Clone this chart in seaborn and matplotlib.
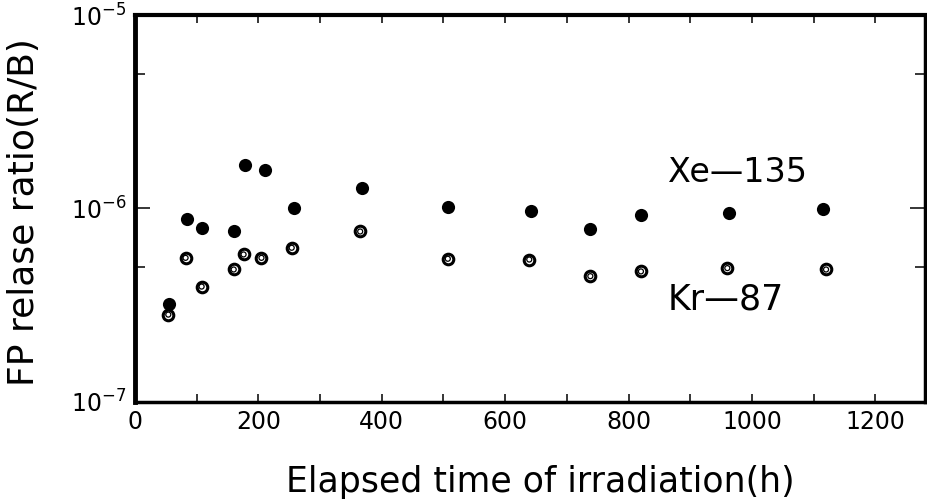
import numpy as np
import pandas as pd
import matplotlib
matplotlib.use("Agg")
import matplotlib.pyplot as plt
import matplotlib.ticker as mticker
import seaborn as sns

# ---- values ----
xe_time = [55, 85, 108, 160, 178, 210, 258, 368, 507, 642, 738, 820, 963, 1115]
xe_ratio = [3.21e-7, 8.84e-7, 7.97e-7, 7.63e-7, 1.69e-6, 1.59e-6, 1.00e-6,
            1.28e-6, 1.015e-6, 9.65e-7, 7.85e-7, 9.28e-7, 9.50e-7, 9.90e-7]

kr_time = [54, 82, 108, 160, 176, 205, 254, 365, 507, 639, 738, 820, 960, 1120]
kr_ratio = [2.82e-7, 5.55e-7, 3.94e-7, 4.83e-7, 5.78e-7, 5.55e-7, 6.26e-7,
            7.60e-7, 5.49e-7, 5.44e-7, 4.46e-7, 4.72e-7, 4.91e-7, 4.83e-7]

x_major = [0, 200, 400, 600, 800, 1000, 1200]

xe = pd.DataFrame({"time": xe_time, "ratio": xe_ratio})
kr = pd.DataFrame({"time": kr_time, "ratio": kr_ratio})

sns.set_style("ticks")
plt.rcParams["font.family"] = ["DejaVu Sans"]
plt.rcParams["text.color"] = "black"
plt.rcParams["axes.labelcolor"] = "black"

fig = plt.figure(figsize=(9.27, 5.01), dpi=100)
ax = fig.add_axes([0.1456, 0.1986, 0.852, 0.7705])

# Xe-135: filled circles
sns.scatterplot(data=xe, x="time", y="ratio", ax=ax, marker="o", s=90,
                color="black", edgecolor="black", linewidth=0, zorder=3)
# Kr-87: double ring circles
sns.scatterplot(data=kr, x="time", y="ratio", ax=ax, marker="o", s=58,
                facecolor="white", edgecolor="black", linewidth=2.2, zorder=4)
sns.scatterplot(data=kr, x="time", y="ratio", ax=ax, marker="o", s=13,
                facecolor="none", edgecolor="black", linewidth=0.9, zorder=5)

ax.set_yscale("log")
ax.set_xlim(0, 1280)
ax.set_ylim(1e-7, 1e-5)

ax.xaxis.set_major_locator(mticker.FixedLocator(x_major))
ax.xaxis.set_minor_locator(mticker.MultipleLocator(100))
ax.yaxis.set_major_locator(mticker.LogLocator(base=10, numticks=10))
ax.yaxis.set_minor_locator(mticker.LogLocator(base=10, subs=[5], numticks=10))
ax.yaxis.set_minor_formatter(mticker.NullFormatter())

ax.tick_params(axis="both", which="both", direction="in",
               top=True, right=True, width=1.1, labelsize=17, colors="black")
ax.tick_params(axis="x", which="both", length=6, pad=6)
ax.tick_params(axis="y", which="major", length=11, pad=6)
ax.tick_params(axis="y", which="minor", length=7)

for side, lw in {"left": 3.5, "top": 3.0, "bottom": 2.5, "right": 2.5}.items():
    ax.spines[side].set_visible(True)
    ax.spines[side].set_linewidth(lw)
    ax.spines[side].set_color("black")

ax.set_xlabel("Elapsed time of irradiation(h)", fontsize=25, va="center")
ax.set_ylabel("FP relase ratio(R/B)", fontsize=26, va="center")
ax.xaxis.set_label_coords(0.513, -0.2085)
ax.yaxis.set_label_coords(-0.14, 0.49)

ax.text(976, 1.54e-6, "Xe\u2014135", fontsize=24, ha="center", va="center")
ax.text(958, 3.38e-7, "Kr\u201487", fontsize=25, ha="center", va="center")

fig.savefig("out.png", dpi=100, facecolor="white")
